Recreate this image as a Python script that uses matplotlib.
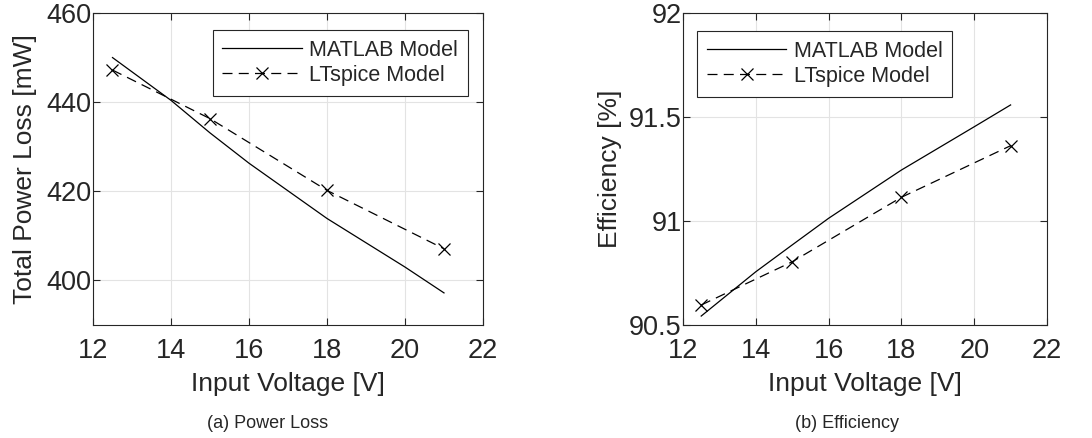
import numpy as np
from matplotlib import pyplot as plt

plt.rcParams['font.family'] = ['Liberation Sans', 'DejaVu Sans']

# Input voltage samples for the MATLAB model curve
v_matlab = [12.5, 14, 15, 16, 18, 20, 21]
loss_matlab = [450.0, 440.4, 433.1, 426.3, 413.9, 403.0, 397.2]
eff_matlab = [90.543, 90.756, 90.885, 91.013, 91.245, 91.453, 91.558]

# LTspice simulation points
v_spice = [12.5, 15, 18, 21]
loss_spice = [447.2, 436.3, 420.2, 407.1]
eff_spice = [90.596, 90.804, 91.114, 91.362]

xticks = [12, 14, 16, 18, 20, 22]
loss_ticks = [400, 420, 440, 460]
eff_ticks = [90.5, 91, 91.5, 92]

txt = '#262626'
W, H = 1092, 438
fig = plt.figure(figsize=(W / 100, H / 100), dpi=100)

ax1 = fig.add_axes([93 / W, 1 - 325 / H, 390 / W, 312 / H])
ax2 = fig.add_axes([683 / W, 1 - 325 / H, 364 / W, 312 / H])


def style(ax, ylim, yticks, ylabel, ypad):
    ax.set_xlim(12, 22)
    ax.set_ylim(*ylim)
    ax.set_xticks(xticks)
    ax.set_yticks(yticks)
    ax.set_yticklabels([f'{t:g}' for t in yticks])
    ax.grid(True, color='#e3e3e3', linewidth=0.8)
    ax.set_axisbelow(True)
    ax.tick_params(direction='in', top=True, right=True, length=5,
                   labelsize=19.5, colors=txt)
    ax.tick_params(axis='x', pad=9.5)
    ax.tick_params(axis='y', pad=1)
    for s in ax.spines.values():
        s.set_color(txt)
        s.set_linewidth(0.8)
    ax.set_xlabel('Input Voltage [V]', fontsize=19, color=txt, labelpad=5.5)
    ax.set_ylabel(ylabel, fontsize=19, color=txt, labelpad=ypad)


ax1.plot(v_matlab, loss_matlab, '-', color='k', lw=0.9, label='MATLAB Model')
ax1.plot(v_spice, loss_spice, '--', color='k', lw=0.9, marker='x', ms=8.5,
         mew=0.9, dashes=(8, 5), label='LTspice Model')
style(ax1, (390, 460), loss_ticks, 'Total Power Loss [mW]', 7)

ax2.plot(v_matlab, eff_matlab, '-', color='k', lw=0.9, label='MATLAB Model')
ax2.plot(v_spice, eff_spice, '--', color='k', lw=0.9, marker='x', ms=8.5,
         mew=0.9, dashes=(8, 5), label='LTspice Model')
style(ax2, (90.5, 92), eff_ticks, 'Efficiency [%]', 5)

# legend frames placed from the reference pixel boxes
for ax, loc, anchor in [(ax1, 'upper right', ((468 - 93) / 390, 1 - 17 / 312)),
                        (ax2, 'upper left', ((697 - 683) / 364, 1 - 18 / 312))]:
    leg = ax.legend(loc=loc, bbox_to_anchor=anchor, fontsize=15.5,
                    fancybox=False, framealpha=1, edgecolor=txt,
                    handlelength=3.7, borderpad=0.45, labelspacing=0.2,
                    handletextpad=0.35, borderaxespad=0)
    leg.get_frame().set_linewidth(0.8)
    for t in leg.get_texts():
        t.set_color(txt)

fig.text(268 / W, 1 - 423 / H, '(a) Power Loss', ha='center', va='center',
         fontsize=13, color=txt)
fig.text(847 / W, 1 - 423 / H, '(b) Efficiency', ha='center', va='center',
         fontsize=13, color=txt)

fig.savefig('out.png', dpi=100)
